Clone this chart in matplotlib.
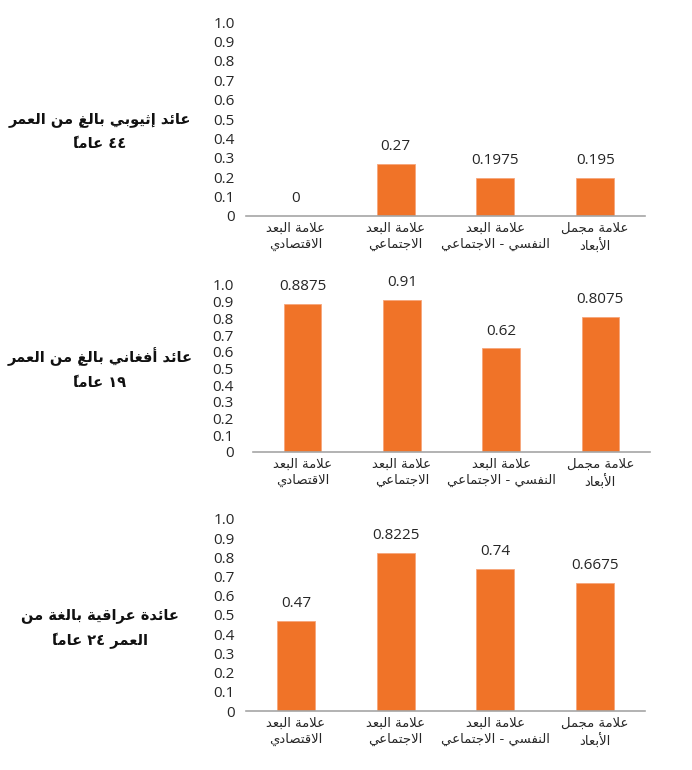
import matplotlib
matplotlib.use('Agg')
import matplotlib.pyplot as plt

# data
categories = ["علامة البعد\nالاقتصادي", "علامة البعد\nالاجتماعي",
              "علامة البعد\nالنفسي - الاجتماعي", "علامة مجمل\nالأبعاد"]
ethiopian = [0, 0.27, 0.1975, 0.195]
afghan = [0.8875, 0.91, 0.62, 0.8075]
iraqi = [0.47, 0.8225, 0.74, 0.6675]
titles = ["عائد إثيوبي بالغٍ من العمر\n٤٤ عاماً",
          "عائد أفغاني بالغٍ من العمر\n١٩ عاماً",
          "عائدة عراقية بالغة من\nالعمر ٢٤ عاماً"]
y_ticks = [0, 0.1, 0.2, 0.3, 0.4, 0.5, 0.6, 0.7, 0.8, 0.9, 1.0]

BAR_COLOR = '#F07328'
AXIS_COLOR = '#A6A6A6'
TEXT_COLOR = '#262626'

# --- minimal Arabic shaping (matplotlib has no bidi / joining) ---
DUAL = {'ئ': 0xFE89, 'ب': 0xFE8F, 'ت': 0xFE95, 'ث': 0xFE99, 'ج': 0xFE9D,
        'ح': 0xFEA1, 'خ': 0xFEA5, 'س': 0xFEB1, 'ش': 0xFEB5, 'ص': 0xFEB9,
        'ض': 0xFEBD, 'ط': 0xFEC1, 'ظ': 0xFEC5, 'ع': 0xFEC9, 'غ': 0xFECD,
        'ف': 0xFED1, 'ق': 0xFED5, 'ك': 0xFED9, 'ل': 0xFEDD, 'م': 0xFEE1,
        'ن': 0xFEE5, 'ه': 0xFEE9, 'ي': 0xFEF1}
RIGHT = {'آ': 0xFE81, 'أ': 0xFE83, 'ؤ': 0xFE85, 'إ': 0xFE87, 'ا': 0xFE8D,
         'ة': 0xFE93, 'د': 0xFEA9, 'ذ': 0xFEAB, 'ر': 0xFEAD, 'ز': 0xFEAF,
         'و': 0xFEED, 'ى': 0xFEEF}
LAM_ALEF = {'آ': 0xFEF5, 'أ': 0xFEF7, 'إ': 0xFEF9, 'ا': 0xFEFB}
MARKS = set(chr(c) for c in range(0x064B, 0x0653))
DIGITS = set('0123456789٠١٢٣٤٥٦٧٨٩')


def shape_line(line):
    units = []
    i = 0
    while i < len(line):
        ch = line[i]
        if ch in MARKS and units:
            units[-1][2] += ch
        elif ch == 'ل' and i + 1 < len(line) and line[i + 1] in LAM_ALEF:
            units.append(['R', LAM_ALEF[line[i + 1]], ''])
            i += 1
        elif ch in DUAL:
            units.append(['D', DUAL[ch], ''])
        elif ch in RIGHT:
            units.append(['R', RIGHT[ch], ''])
        else:
            units.append(['N', ch, ''])
        i += 1

    glyphs = []
    for k, (kind, base, marks) in enumerate(units):
        if kind == 'N':
            glyphs.append((marks + base, base in DIGITS))
            continue
        prev_joins = k > 0 and units[k - 1][0] == 'D'
        next_joins = kind == 'D' and k + 1 < len(units) and units[k + 1][0] in ('D', 'R')
        if prev_joins and next_joins:
            off = 3
        elif prev_joins:
            off = 1
        elif next_joins:
            off = 2
        else:
            off = 0
        # zero-width mark placed before its base so it sits over it
        glyphs.append((marks + chr(base + off), False))

    runs = []
    for g, is_digit in glyphs:
        if runs and runs[-1][0] == is_digit:
            runs[-1][1].append(g)
        else:
            runs.append([is_digit, [g]])
    out = ''
    for is_digit, gs in reversed(runs):
        out += ''.join(gs if is_digit else reversed(gs))
    return out


def ar(text):
    return '\n'.join(shape_line(l) for l in text.split('\n'))


NUM_FONT = ['Open Sans', 'DejaVu Sans']
AR_FONT = ['DejaVu Sans']

fig = plt.figure(figsize=(6.92, 7.70), dpi=100)

# axes rectangles in figure fractions
panels = [
    (ethiopian, [0.3555, 0.7195, 0.5766, 0.2519], 8, 0.829),
    (afghan, [0.3656, 0.4130, 0.5737, 0.2169], 14, 0.5214),
    (iraqi, [0.3555, 0.0766, 0.5766, 0.2494], 8, 0.1838),
]

for (values, rect, ypad, title_y), title in zip(panels, titles):
    ax = fig.add_axes(rect)
    x = list(range(len(categories)))
    ax.bar(x, values, width=0.38, color=BAR_COLOR, edgecolor='#F6A57A', linewidth=0.6)
    for xi, v in zip(x, values):
        ax.annotate(f"{v:g}", (xi, v), xytext=(0, 7), textcoords='offset points',
                    ha='center', va='bottom', fontsize=11, color=TEXT_COLOR,
                    family=NUM_FONT)
    ax.set_xlim(-0.5, 3.5)
    ax.set_ylim(0, 1.0)
    ax.set_yticks(y_ticks)
    ax.set_yticklabels(["0" if t == 0 else f"{t:.1f}" for t in y_ticks],
                       fontsize=11, color=TEXT_COLOR, family=NUM_FONT)
    ax.set_xticks(x)
    ax.set_xticklabels([ar(c) for c in categories], fontsize=9.5, color=TEXT_COLOR,
                       family=AR_FONT, linespacing=1.35)
    ax.tick_params(axis='y', length=0, pad=ypad)
    ax.tick_params(axis='x', length=0, pad=4)
    for side in ['top', 'right', 'left']:
        ax.spines[side].set_visible(False)
    ax.spines['bottom'].set_color(AXIS_COLOR)
    ax.spines['bottom'].set_linewidth(1.2)

    fig.text(0.1445, title_y, ar(title), ha='center', va='center', fontsize=10.5,
             fontweight='bold', family=AR_FONT, linespacing=1.8, color='#111111')

fig.savefig('out.png', dpi=100, facecolor='white')
